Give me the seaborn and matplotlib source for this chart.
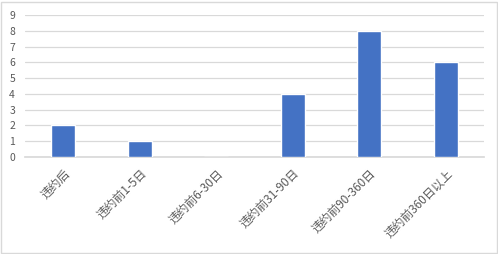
import matplotlib
matplotlib.use("Agg")
import matplotlib.pyplot as plt
import seaborn as sns
import pandas as pd

categories = ["违约后", "违约前1-5日", "违约前6-30日", "违约前31-90日", "违约前90-360日", "违约前360日以上"]
values = [2, 1, 0, 4, 8, 6]
yticks = [0, 1, 2, 3, 4, 5, 6, 7, 8, 9]

sns.set_theme(style="white")
plt.rcParams['font.family'] = ['Noto Sans CJK SC', 'DejaVu Sans']

df = pd.DataFrame({"cat": categories, "val": values})

fig = plt.figure(figsize=(4.98, 2.54), dpi=100)
ax = fig.add_axes([0.050, 0.382, 0.922, 0.559])
sns.barplot(data=df, x="cat", y="val", color="#4472C4", width=0.31, saturation=1, ax=ax, zorder=3)

ax.set_ylim(0, 9)
ax.set_yticks(yticks)
ax.set_xlim(-0.5, len(categories) - 0.5)
ax.grid(axis="y", color="#D9D9D9", linewidth=0.9, zorder=0)
for s in ["top", "right", "left"]:
    ax.spines[s].set_visible(False)
ax.spines["bottom"].set_color("#D9D9D9")
ax.set_xlabel("")
ax.set_ylabel("")
ax.tick_params(axis="both", length=0, colors="#595959")
ax.tick_params(axis="y", labelsize=7.5, pad=7)
ax.tick_params(axis="x", labelsize=8.5, pad=7)
plt.setp(ax.get_xticklabels(), rotation=45, ha="right", rotation_mode="anchor")

border = plt.Rectangle((0.002, 0.004), 0.995, 0.99, transform=fig.transFigure, fill=False,
                       edgecolor="#D9D9D9", linewidth=1)
fig.patches.append(border)

fig.savefig("out.png", dpi=100)
